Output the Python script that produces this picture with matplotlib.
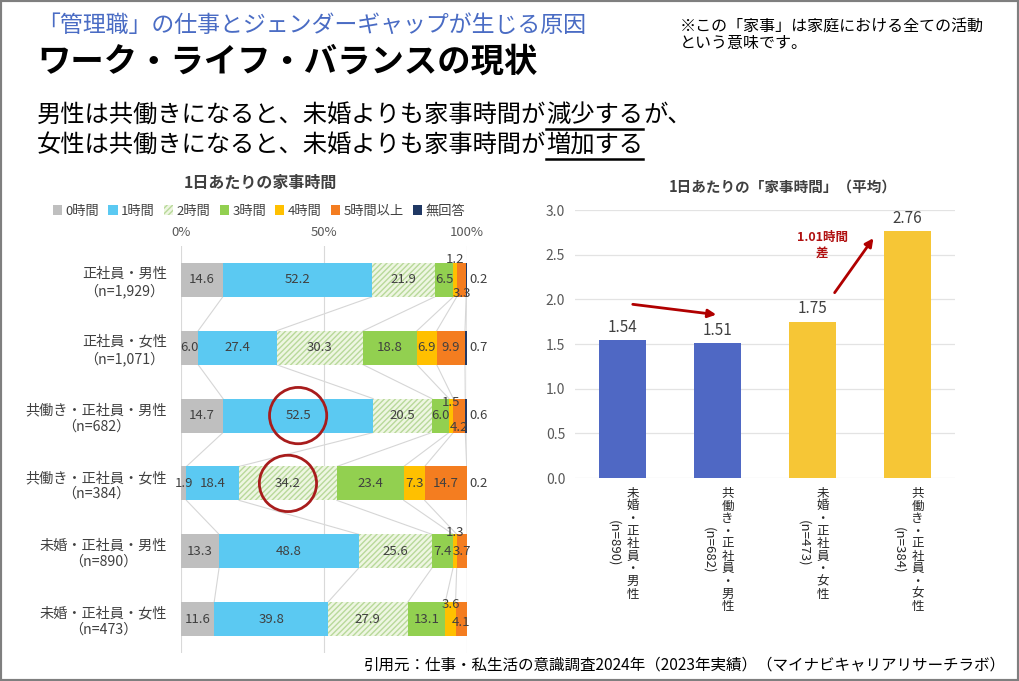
import matplotlib.pyplot as plt
import matplotlib.transforms as mtransforms
from matplotlib.patches import Patch, Ellipse, Rectangle

plt.rcParams['font.family'] = ['Noto Sans CJK JP', 'DejaVu Sans']

# --- données : 1日あたりの家事時間 (%) ---
groups = ["正社員・男性\n（n=1,929）", "正社員・女性\n（n=1,071）",
          "共働き・正社員・男性\n（n=682）", "共働き・正社員・女性\n（n=384）",
          "未婚・正社員・男性\n（n=890）", "未婚・正社員・女性\n（n=473）"]
series_names = ["0時間", "1時間", "2時間", "3時間", "4時間", "5時間以上", "無回答"]
v_0h = [14.6, 6.0, 14.7, 1.9, 13.3, 11.6]
v_1h = [52.2, 27.4, 52.5, 18.4, 48.8, 39.8]
v_2h = [21.9, 30.3, 20.5, 34.2, 25.6, 27.9]
v_3h = [6.5, 18.8, 6.0, 23.4, 7.4, 13.1]
v_4h = [1.2, 6.9, 1.5, 7.3, 1.3, 3.6]
v_5h = [3.3, 9.9, 4.2, 14.7, 3.7, 4.1]
v_na = [0.2, 0.7, 0.6, 0.2, 0.0, 0.0]

# --- données : 家事時間の平均 ---
avg_labels = ["未婚・正社員・男性", "共働き・正社員・男性", "未婚・正社員・女性", "共働き・正社員・女性"]
avg_n = ["(n=890)", "(n=682)", "(n=473)", "(n=384)"]
avg_hours = [1.54, 1.51, 1.75, 2.76]

# styles
colors = ['#BFBFBF', '#5BC9F2', '#EEF6E2', '#92D050', '#FFC000', '#F47D20', '#203864']
edges = ['#BFBFBF', '#5BC9F2', '#B8D99A', '#92D050', '#FFC000', '#F47D20', '#203864']
hatches = [None, None, '//////', None, None, None, None]
TXT = '#404040'
RED = '#A81C1C'

# position des petites étiquettes (décalage vertical en unités de barre)
label_dy = {(0, 4): -0.30, (0, 5): 0.20, (2, 4): -0.20, (2, 5): 0.18,
            (4, 4): -0.28, (5, 4): -0.22, (5, 5): 0.05}
label_right = {(0, 6), (1, 6), (2, 6), (3, 6)}
circled = [(2, 1), (3, 2)]

fig = plt.figure(figsize=(10.19, 6.81), dpi=100)

# ---------------- en-tête ----------------
fig.text(37 / 1019, 1 - 25 / 681, "「管理職」の仕事とジェンダーギャップが生じる原因",
         fontsize=16.5, color='#4A6CC4', va='center')
fig.text(37 / 1019, 1 - 62 / 681, "ワーク・ライフ・バランスの現状",
         fontsize=24, fontweight='bold', color='black', va='center')
fig.text(680 / 1019, 1 - 35 / 681, "※この「家事」は家庭における全ての活動\nという意味です。",
         fontsize=11.5, color='black', va='center', linespacing=1.05)

renderer = fig.canvas.get_renderer()


def underlined_line(y_px, parts, size):
    x = 37
    for txt, ul in parts:
        t = fig.text(x / 1019, 1 - y_px / 681, txt, fontsize=size, va='baseline', color='black')
        bb = t.get_window_extent(renderer)
        if ul:
            yy = bb.y0 - 1
            fig.add_artist(plt.Line2D([bb.x0 / 1019, bb.x1 / 1019], [yy / 681, yy / 681],
                                      color='black', lw=1.8, transform=fig.transFigure))
        x = bb.x1


underlined_line(122, [("男性は共働きになると、未婚よりも家事時間が", False), ("減少する", True), ("が、", False)], 17.5)
underlined_line(152, [("女性は共働きになると、未婚よりも家事時間が", False), ("増加する", True)], 17.5)

# ---------------- graphique gauche ----------------
ax = fig.add_axes([181 / 1019, 1 - 653 / 681, 286 / 1019, 407 / 681])
values = [v_0h, v_1h, v_2h, v_3h, v_4h, v_5h, v_na]
rows = list(range(len(groups)))
left = [0.0] * len(rows)
ends = []
for j, vals in enumerate(values):
    ax.barh(rows, vals, left=left, height=0.5, color=colors[j], edgecolor=edges[j],
            linewidth=0, hatch=hatches[j], zorder=3)
    left = [l + v for l, v in zip(left, vals)]
    ends.append(left[:])
    for i in rows:
        v = vals[i]
        if v == 0:
            continue
        cx = left[i] - v / 2
        if (i, j) in label_right:
            ax.text(100.8, i, f"{v:.1f}", ha='left', va='center', fontsize=9.5, color=TXT, zorder=6)
        else:
            ax.text(cx, i + label_dy.get((i, j), 0), f"{v:.1f}", ha='center', va='center',
                    fontsize=9.5, color=TXT, zorder=6)

# lignes de séries
for j in range(len(values)):
    for i in rows[:-1]:
        ax.plot([ends[j][i], ends[j][i + 1]], [i + 0.25, i + 0.75], color='#D6D6D6', lw=0.8, zorder=1)

for i, j in circled:
    cx = ends[j][i] - values[j][i] / 2
    ax.add_patch(Ellipse((cx, i), 20, 0.83, fill=False, edgecolor=RED, lw=2, zorder=7, clip_on=False))

ax.set_xlim(0, 100)
ax.set_ylim(len(rows) - 0.5, -0.5)
ax.xaxis.tick_top()
ax.set_xticks([0, 50, 100])
ax.set_xticklabels(["0%", "50%", "100%"])
ax.set_yticks(rows)
ax.set_yticklabels(groups, ma='center', fontsize=10.2, color=TXT)
ax.tick_params(axis='x', length=0, pad=5, labelsize=9.5, labelcolor='#595959')
ax.tick_params(axis='y', length=0, pad=10)
ax.grid(axis='x', color='#D9D9D9', lw=0.8, zorder=0)
for s in ax.spines.values():
    s.set_visible(False)

fig.text(260 / 1019, 1 - 183 / 681, "1日あたりの家事時間", fontsize=11.5, fontweight='bold',
         color=TXT, ha='center', va='center')
handles = [Patch(facecolor=colors[j], edgecolor=edges[j], linewidth=0, hatch=hatches[j])
           for j in range(len(series_names))]
fig.legend(handles, series_names, loc='center', bbox_to_anchor=(259 / 1019, 1 - 211 / 681),
           ncol=7, frameon=False, fontsize=9.5, handlelength=0.7, handleheight=0.7,
           handletextpad=0.25, columnspacing=0.7, labelcolor=TXT)

# ---------------- graphique droit ----------------
ax2 = fig.add_axes([575 / 1019, 1 - 478 / 681, 380 / 1019, 268 / 681])
xs = list(range(len(avg_hours)))
bar_colors = ['#4F68C4', '#4F68C4', '#F6C636', '#F6C636']
ax2.bar(xs, avg_hours, width=0.5, color=bar_colors, zorder=3)
for xi, h in zip(xs, avg_hours):
    ax2.annotate(f"{h:.2f}", (xi, h), xytext=(0, 3), textcoords='offset points',
                 ha='center', va='bottom', fontsize=11, color=TXT)
ax2.set_xlim(-0.5, 3.5)
ax2.set_ylim(0, 3.0)
ax2.set_yticks([0, 0.5, 1.0, 1.5, 2.0, 2.5, 3.0])
ax2.set_yticklabels([f"{t:.1f}" for t in [0, 0.5, 1.0, 1.5, 2.0, 2.5, 3.0]])
ax2.set_xticks([])
ax2.tick_params(axis='y', length=0, pad=7, labelsize=10, labelcolor='#595959')
ax2.grid(axis='y', color='#E3E3E3', lw=0.9, zorder=0)
for s in ax2.spines.values():
    s.set_visible(False)

# flèches
ax2.annotate('', xy=(1.016, 1.825), xytext=(0.079, 1.948),
             arrowprops=dict(arrowstyle='-|>', color='#B00000', lw=2, mutation_scale=12))
ax2.annotate('', xy=(2.658, 2.71), xytext=(2.216, 2.049),
             arrowprops=dict(arrowstyle='-|>', color='#B00000', lw=2, mutation_scale=12))
ax2.text(2.1, 2.6, "1.01時間\n差", ha='center', va='center', fontsize=9, fontweight='bold',
         color='#B01010', linespacing=1.3)

# étiquettes verticales
base = ax2.get_xaxis_transform()
CH = 12.6  # hauteur d'un caractère en pixels
for xi, lab, n in zip(xs, avg_labels, avg_n):
    for k, ch in enumerate(lab):
        tr = mtransforms.offset_copy(base, fig=fig, x=7.2, y=-(9 + CH * (k + 0.5)) * 0.72, units='points')
        ax2.text(xi, 0, ch, transform=tr, ha='center', va='center', fontsize=9, color='#262626')
    tr = mtransforms.offset_copy(base, fig=fig, x=-6.5, y=-(9 + CH * len(lab) / 2) * 0.72, units='points')
    ax2.text(xi, 0, n, transform=tr, ha='center', va='center', rotation=-90, fontsize=9.5, color='#262626')

fig.text(783 / 1019, 1 - 187 / 681, "1日あたりの「家事時間」（平均）", fontsize=10.5, fontweight='bold',
         color=TXT, ha='center', va='center')

# pied de page
fig.text(1006 / 1019, 1 - 665 / 681,
         "引用元：仕事・私生活の意識調査2024年（2023年実績）（マイナビキャリアリサーチラボ）",
         fontsize=11.2, color='black', ha='right', va='center')

fig.add_artist(Rectangle((0, 0), 1, 1, transform=fig.transFigure, fill=False,
                         edgecolor='#7F7F7F', lw=3))

fig.savefig("out.png", dpi=100)
